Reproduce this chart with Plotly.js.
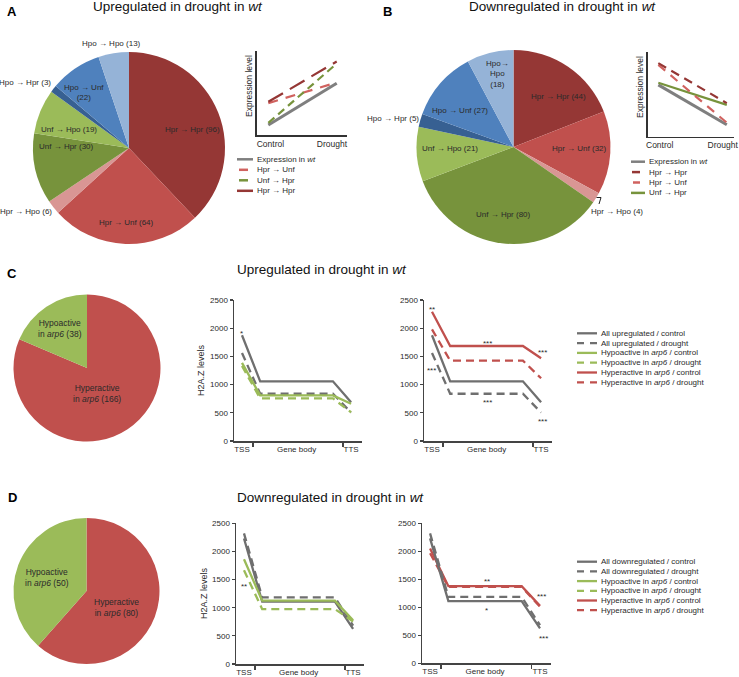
<!DOCTYPE html>
<html><head><meta charset="utf-8">
<script src="https://cdn.plot.ly/plotly-3.0.1.min.js"></script>
<style>html,body{margin:0;padding:0;background:#fff;} #chart{width:739px;height:677px;}</style>
</head><body><div id="chart"></div>
<script>
// ================= DATA =================
const pieTransitions = ['Hpr → Hpr','Hpr → Unf','Hpr → Hpo','Unf → Hpr','Unf → Hpo','Hpo → Hpr','Hpo → Unf','Hpo → Hpo'];
const pieUpCounts   = [96, 64, 6, 30, 19, 3, 22, 13];
const pieDownCounts = [44, 32, 4, 80, 21, 5, 27, 18];

const arpClasses = ['Hyperactive', 'Hypoactive'];
const arpUpCounts   = [166, 38];
const arpDownCounts = [80, 50];

const schemX = [0, 1];
const schemTicks = ['Control', 'Drought'];
const schemUpWt      = [1.2, 6.15];
const schemUpHprUnf  = [3.8, 6.25];
const schemUpUnfHpr  = [1.45, 8.5];
const schemUpHprHpr  = [3.95, 8.75];
const schemDownWt     = [6.1, 1.4];
const schemDownHprHpr = [8.65, 3.95];
const schemDownHprUnf = [8.45, 1.65];
const schemDownUnfHpr = [6.35, 3.75];

const profileX = [0, 1, 5, 6];
const profileTicks = ['TSS', 'Gene body', 'TTS'];
const upAllControl    = [1875, 1058, 1058, 685];
const upAllDrought    = [1560, 838, 838, 505];
const upHypoControl   = [1385, 808, 808, 660];
const upHypoDrought   = [1330, 755, 755, 510];
const upHyperControl  = [2293, 1684, 1684, 1466];
const upHyperDrought  = [1980, 1425, 1425, 1112];
const downAllControl   = [2230, 1110, 1110, 625];
const downAllDrought   = [2320, 1185, 1185, 680];
const downHypoControl  = [1860, 1125, 1125, 775];
const downHypoDrought  = [1665, 975, 975, 755];
const downHyperControl = [2050, 1378, 1378, 1025];
const downHyperDrought = [1965, 1365, 1365, 1010];

const starsC1 = [['*', 0, 1950]];
const starsC2 = [['**', 0, 2371], ['***', 3.03, 1773], ['***', 6.1, 1596], ['***', 0, 1277], ['***', 3.03, 727], ['***', 6.1, 390]];
const starsD1 = [['**', 0, 1404]];
const starsD2 = [['**', 3.1, 1500], ['*', 3.1, 970], ['***', 6.1, 1232], ['***', 6.2, 475]];

// ================= STYLE / LAYOUT =================
const W = 739, H = 677;
const FONT = 'Liberation Sans, Arial, Helvetica, sans-serif';
const TXT = '#2a2a2a';
const px = x => x / W;
const py = y => 1 - y / H;

const pieColors = ['#953735', '#c0504d', '#d99694', '#77933c', '#9bbb59', '#376092', '#4f81bd', '#95b3d7'];
const arpColors = ['#c0504d', '#9bbb59'];
const GREY = '#6f6f6f', GREEN = '#9bbb59', RED = '#c0504d';

const traces = [];
function pie(values, labels, colors, x0, x1, y0, y1) {
  traces.push({type: 'pie', values: values, labels: labels, sort: false, direction: 'clockwise', rotation: 0,
    marker: {colors: colors, line: {width: 0}}, textinfo: 'none', hoverinfo: 'skip', showlegend: false,
    domain: {x: [px(x0), px(x1)], y: [py(y1), py(y0)]}});
}
pie(pieUpCounts, pieTransitions, pieColors, 33, 225, 52, 244);
pie(pieDownCounts, pieTransitions, pieColors, 416.5, 610.5, 50, 244);
pie(arpUpCounts, arpClasses, arpColors, 13.5, 160.5, 294.5, 441.5);
pie(arpDownCounts, arpClasses, arpColors, 13.5, 159.5, 518, 664);

function line(xa, ya, x, y, color, width, dash) {
  traces.push({type: 'scatter', mode: 'lines', x: x, y: y, xaxis: xa, yaxis: ya, showlegend: false, hoverinfo: 'skip',
    line: {color: color, width: width, dash: dash || 'solid'}});
}
// schematic A
line('x', 'y', schemX, schemUpWt, '#7f7f7f', 3);
line('x', 'y', schemX, schemUpHprUnf, '#d0625f', 2.2, '10px,8px');
line('x', 'y', schemX, schemUpUnfHpr, '#77933c', 2.2, '8px,5px');
line('x', 'y', schemX, schemUpHprHpr, '#953735', 2.2, '17px,8px');
// schematic B
line('x2', 'y2', schemX, schemDownWt, '#7f7f7f', 3);
line('x2', 'y2', schemX, schemDownUnfHpr, '#77933c', 2.2);
line('x2', 'y2', schemX, schemDownHprUnf, '#d0625f', 2.2, '9px,7px');
line('x2', 'y2', schemX, schemDownHprHpr, '#953735', 2.2, '9px,6px');
// C1
line('x3', 'y3', profileX, upAllControl, GREY, 2.3);
line('x3', 'y3', profileX, upAllDrought, GREY, 2.3, '8px,5px');
line('x3', 'y3', profileX, upHypoControl, GREEN, 2.3);
line('x3', 'y3', profileX, upHypoDrought, GREEN, 2.3, '8px,5px');
// C2
line('x4', 'y4', profileX, upAllControl, GREY, 2.3);
line('x4', 'y4', profileX, upAllDrought, GREY, 2.3, '8px,5px');
line('x4', 'y4', profileX, upHyperControl, RED, 2.3);
line('x4', 'y4', profileX, upHyperDrought, RED, 2.3, '8px,5px');
// D1
line('x5', 'y5', profileX, downAllControl, GREY, 2.3);
line('x5', 'y5', profileX, downAllDrought, GREY, 2.3, '8px,5px');
line('x5', 'y5', profileX, downHypoControl, GREEN, 2.3);
line('x5', 'y5', profileX, downHypoDrought, GREEN, 2.3, '8px,5px');
// D2
line('x6', 'y6', profileX, downHyperControl, RED, 2.3);
line('x6', 'y6', profileX, downHyperDrought, RED, 2.3, '8px,5px');
line('x6', 'y6', profileX, downAllControl, GREY, 2.3);
line('x6', 'y6', profileX, downAllDrought, GREY, 2.3, '8px,5px');

const AXC = '#444';
function schemAxes(xd, yd, xr, tv, ya) {
  return [
    {domain: xd, range: xr, anchor: ya, showline: true, linecolor: '#333', linewidth: 1.5, ticks: '', tickvals: tv,
     ticktext: schemTicks, ticklabeloverflow: 'allow', tickfont: {family: FONT, size: 8.5, color: TXT},
     showgrid: false, zeroline: false, fixedrange: true},
    {range: [0, 10], domain: yd, showline: true, linecolor: '#333', linewidth: 1.5, ticks: '', showticklabels: false,
     showgrid: false, zeroline: false, fixedrange: true}
  ];
}
function profAxes(x0, x1, y0, y1, ya) {
  return [
    {domain: [px(x0), px(x1)], range: [-0.44, 6.6], anchor: ya, showline: true, linecolor: AXC, linewidth: 1.5,
     tickvals: [0, 3, 6], ticktext: profileTicks, ticks: '', tickfont: {family: FONT, size: 8, color: TXT},
     minor: {tickvals: [0.6, 5.55], ticks: 'outside', ticklen: 4, tickwidth: 1.2, tickcolor: AXC},
     showgrid: false, zeroline: false, fixedrange: true},
    {domain: [py(y1), py(y0)], range: [0, 2500], showline: true, linecolor: AXC, linewidth: 1.5, ticks: 'outside',
     ticklen: 3, tickwidth: 1.2, tickcolor: AXC, dtick: 500, tickfont: {family: FONT, size: 8, color: TXT},
     showgrid: false, zeroline: false, fixedrange: true}
  ];
}
const [xa1, ya1] = schemAxes([px(256.7), px(346.7)], [py(135), py(51)], [-0.17, 1.146], [0.03, 0.93], 'y');
const [xa2, ya2] = schemAxes([px(647.7), px(734)], [py(136.7), py(51.7)], [-0.155, 1.105], [0.02, 0.94], 'y2');
ya2.anchor = 'x2';
ya1.anchor = 'x';
const [xa3, ya3] = profAxes(234, 362, 300, 441, 'y3'); ya3.anchor = 'x3';
const [xa4, ya4] = profAxes(424, 552, 300, 441, 'y4'); ya4.anchor = 'x4';
const [xa5, ya5] = profAxes(236, 364, 523.3, 664, 'y5'); ya5.anchor = 'x5';
const [xa6, ya6] = profAxes(422, 551, 523.3, 663.3, 'y6'); ya6.anchor = 'x6';

const annotations = [];
const shapes = [];
function ann(text, x, y, size, opts) {
  annotations.push(Object.assign({text: text, xref: 'paper', yref: 'paper', x: px(x), y: py(y), showarrow: false,
    xanchor: 'center', yanchor: 'middle', font: {family: FONT, size: size, color: TXT}}, opts || {}));
}
// panel letters
ann('<b>A</b>', 12, 11, 13, {font: {family: FONT, size: 13, color: '#000'}});
ann('<b>B</b>', 387, 11, 13, {font: {family: FONT, size: 13, color: '#000'}});
ann('<b>C</b>', 12, 273, 13, {font: {family: FONT, size: 13, color: '#000'}});
ann('<b>D</b>', 12, 497, 13, {font: {family: FONT, size: 13, color: '#000'}});
// titles
ann('Upregulated in drought in <i>wt</i>', 178, 7, 13.5, {font: {family: FONT, size: 13.5, color: '#111'}});
ann('Downregulated in drought in <i>wt</i>', 562, 7, 13.5, {font: {family: FONT, size: 13.5, color: '#111'}});
ann('Upregulated in drought in <i>wt</i>', 322, 270, 13.5, {font: {family: FONT, size: 13.5, color: '#111'}});
ann('Downregulated in drought in <i>wt</i>', 330, 497, 13.5, {font: {family: FONT, size: 13.5, color: '#111'}});

// pie labels A
const pieLab = (i, counts) => pieTransitions[i] + ' (' + counts[i] + ')';
const posA = [[192, 129], [126, 223], [26, 212], [66, 147], [69, 129], [25, 82], null, [111, 43]];
posA.forEach((p, i) => { if (p) ann(pieLab(i, pieUpCounts), p[0], p[1], 8); });
ann(pieTransitions[6] + '<br>(' + pieUpCounts[6] + ')', 84, 92.5, 8);
// pie labels B
const posB = [[558, 96], [579, 149], [617, 212], [503, 214], [450, 149], [393, 119], [460, 110], null];
posB.forEach((p, i) => { if (p) ann(pieLab(i, pieDownCounts), p[0], p[1], 8); });
const hh = pieTransitions[7].split(' ');
ann(hh[0] + '→<br>' + hh[2] + '<br>(' + pieDownCounts[7] + ')', 497, 74, 8);
shapes.push({type: 'path', xref: 'paper', yref: 'paper',
  path: `M ${px(596.5)} ${py(197.5)} L ${px(601)} ${py(197.5)} L ${px(599)} ${py(204)}`, line: {color: '#222', width: 1}});
// pie labels C / D
ann(arpClasses[1] + '<br>in <i>arp6</i> (' + arpUpCounts[1] + ')', 60, 328, 8.5);
ann(arpClasses[0] + '<br>in <i>arp6</i> (' + arpUpCounts[0] + ')', 97, 393, 8.5);
ann(arpClasses[1] + '<br>in <i>arp6</i> (' + arpDownCounts[1] + ')', 47, 577, 8.5);
ann(arpClasses[0] + '<br>in <i>arp6</i> (' + arpDownCounts[0] + ')', 116, 607, 8.5);

// axis titles
ann('Expression level', 249, 86, 8.5, {textangle: -90});
ann('Expression level', 640, 87, 8.5, {textangle: -90});
ann('H2A.Z levels', 201, 370, 9, {textangle: -90});
ann('H2A.Z levels', 204, 593, 9, {textangle: -90});

// stars
function stars(list, xr, yr) {
  list.forEach(s => annotations.push({text: s[0], x: s[1], y: s[2], xref: xr, yref: yr, showarrow: false,
    xanchor: 'center', yanchor: 'middle', yshift: -2, font: {family: FONT, size: 8, color: TXT}}));
}
stars(starsC1, 'x3', 'y3'); stars(starsC2, 'x4', 'y4'); stars(starsD1, 'x5', 'y5'); stars(starsD2, 'x6', 'y6');

// legends (drawn keys)
function key(x0, x1, y, color, width, dash) {
  shapes.push({type: 'line', xref: 'paper', yref: 'paper', x0: px(x0), x1: px(x1), y0: py(y), y1: py(y),
    line: {color: color, width: width, dash: dash || 'solid'}});
}
function keyText(text, x, y) { ann(text, x, y, 8, {xanchor: 'left'}); }
// legend A
const legA = [['Expression in <i>wt</i>', '#7f7f7f', 'solid', 237, 253], [pieTransitions[1], '#d0625f', 'solid', 239, 248],
  [pieTransitions[3], '#77933c', 'solid', 239, 248], [pieTransitions[0], '#953735', 'solid', 237, 253]];
legA.forEach((r, i) => { const y = 159.3 + i * 10.5; key(r[3], r[4], y, r[1], 2.5, r[2]); keyText(r[0], 255, y); });
// legend B
const legB = [['Expression in <i>wt</i>', '#7f7f7f', 631, 645], [pieTransitions[0], '#953735', 632, 640],
  [pieTransitions[1], '#d0625f', 633, 640], [pieTransitions[3], '#77933c', 631, 645]];
legB.forEach((r, i) => { const y = 161.7 + i * 10.4; key(r[2], r[3], y, r[1], 2.5); keyText(r[0], 647, y); });
// legend C / D
const legC = [['All upregulated / control', GREY, 'solid'], ['All upregulated / drought', GREY, '7px,6px'],
  ['Hypoactive in <i>arp6</i> / control', GREEN, 'solid'], ['Hypoactive in <i>arp6</i> / drought', GREEN, '7px,6px'],
  ['Hyperactive in <i>arp6</i> / control', RED, 'solid'], ['Hyperactive in <i>arp6</i> / drought', RED, '7px,6px']];
legC.forEach((r, i) => { const y = 333.3 + i * 9.8; key(577, 597, y, r[1], 2.3, r[2]); keyText(r[0], 599, y); });
const legD = [['All downregulated / control', GREY, 'solid'], ['All downregulated / drought', GREY, '7px,6px'],
  ['Hypoactive in <i>arp6</i> / control', GREEN, 'solid'], ['Hypoactive in <i>arp6</i> / drought', GREEN, '7px,6px'],
  ['Hyperactive in <i>arp6</i> / control', RED, 'solid'], ['Hyperactive in <i>arp6</i> / drought', RED, '7px,6px']];
legD.forEach((r, i) => { const y = 561.7 + i * 9.7; key(577, 597, y, r[1], 2.3, r[2]); keyText(r[0], 599, y); });

const layout = {
  width: W, height: H, margin: {l: 0, r: 0, t: 0, b: 0}, paper_bgcolor: '#fff', plot_bgcolor: 'rgba(0,0,0,0)',
  showlegend: false, font: {family: FONT, size: 8, color: TXT},
  xaxis: xa1, yaxis: ya1, xaxis2: xa2, yaxis2: ya2, xaxis3: xa3, yaxis3: ya3,
  xaxis4: xa4, yaxis4: ya4, xaxis5: xa5, yaxis5: ya5, xaxis6: xa6, yaxis6: ya6,
  annotations: annotations, shapes: shapes
};
Plotly.newPlot('chart', traces, layout, {staticPlot: true, displayModeBar: false});
</script></body></html>
